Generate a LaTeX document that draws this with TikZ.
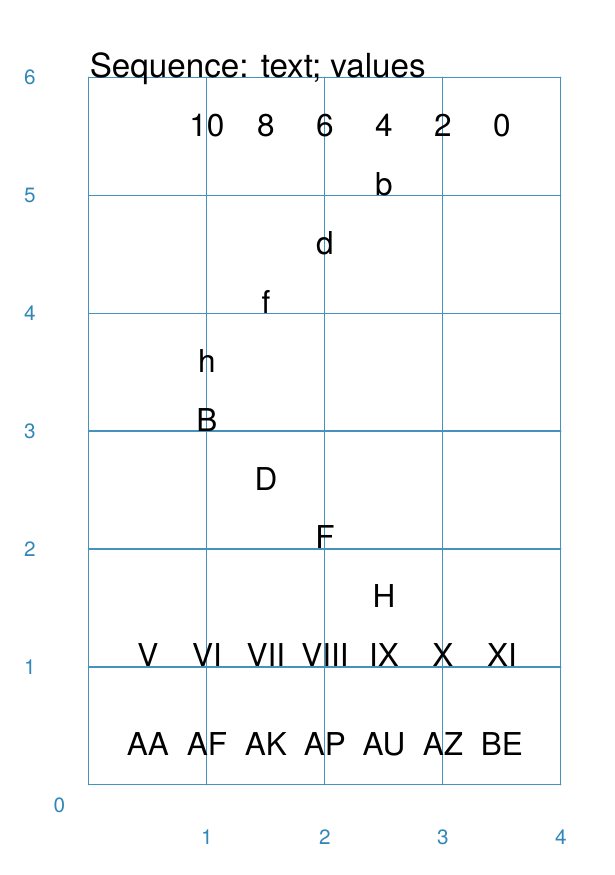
\documentclass[tikz,border=0pt]{standalone}
\usepackage{fontspec}
\setmainfont{TeX Gyre Heros}
\definecolor{gridblue}{RGB}{70,146,190}
\definecolor{axisblue}{RGB}{50,135,185}
\begin{document}
\begin{tikzpicture}[line cap=round,x=1cm,y=1cm]
	\tikzset{lbl/.style={font=\fontsize{7.6}{9}\selectfont,anchor=base,inner sep=0pt},
		axlbl/.style={text=axisblue,font=\fontsize{5}{6}\selectfont,inner sep=0pt}}
	\useasboundingbox (-0.754,-0.763) rectangle (4.458,6.653);
	\draw[gridblue,line width=0.25pt] (0,0) grid (4,6);
	% axis numbers
	\foreach \k in {1,...,6} \node[axlbl] (ylab\k) at (-0.5,\k) {\k};
	\foreach \k in {1,...,4} \node[axlbl] (xlab\k) at (\k,-0.44) {\k};
	\node[axlbl] (orig) at (-0.25,-0.17) {0};
	\node[lbl,font=\fontsize{8}{9}\selectfont,anchor=base west] (title) at (0,6) {Sequence: text; values};
	% values
	\foreach \v/\x in {10/1,8/1.5,6/2,4/2.5,2/3,0/3.5}
	\node[lbl] (val\v) at (\x,5.5) {\v};
	\foreach \t/\x/\y in {b/2.5/5,d/2/4.5,f/1.5/4,h/1/3.5,B/1/3,D/1.5/2.5,F/2/2,H/2.5/1.5}
	\node[lbl] (let\t) at (\x,\y) {\t};
	\foreach \t/\x in {V/0.5,VI/1,VII/1.5,VIII/2,IX/2.5,X/3,XI/3.5}
	\node[lbl] (rom\t) at (\x,1) {\t};
	\foreach \t/\x in {AA/0.5,AF/1,AK/1.5,AP/2,AU/2.5,AZ/3,BE/3.5}
	\node[lbl] (pair\t) at (\x,0.25) {\t};
\end{tikzpicture}
\end{document}
